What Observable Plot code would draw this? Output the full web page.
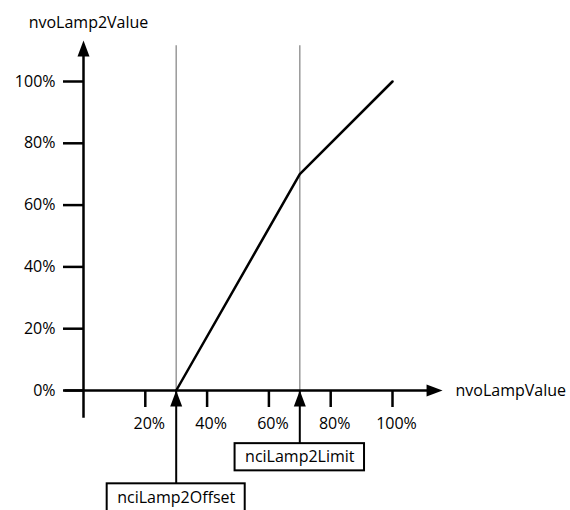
<!DOCTYPE html>
<html>
<head>
<meta charset="utf-8">
<script src="https://cdn.jsdelivr.net/npm/d3@7"></script>
<script src="https://cdn.jsdelivr.net/npm/@observablehq/plot@0.6"></script>
<style>
  html, body { margin: 0; padding: 0; background: white; overflow: hidden; }
</style>
</head>
<body>
<div id="chart"></div>
<script>
// ---- data ----
const inputPct = [30, 70, 100];       // nvoLampValue (%)
const outputPct = [0, 70, 100];       // nvoLamp2Value (%)
const xTicks = [20, 40, 60, 80, 100];
const yTicks = [0, 20, 40, 60, 80, 100];
const guideValues = [30, 70];
const markerNames = ["nciLamp2Offset", "nciLamp2Limit"];
const markerValues = [30, 70];
const xTitle = "nvoLampValue";
const yTitle = "nvoLamp2Value";

// ---- layout ----
const W = 570, H = 510;
const mL = 83, mR = 178, mT = 81, mB = 120;
const pxPerUnit = (W - mL - mR) / 100;
const FONT = "'Open Sans', sans-serif";
const FS = 16;
const xAxisFrom = -6, xAxisTo = 116.2;
const yAxisFrom = -9, yAxisTo = 113.3;
const guideTop = 111.6;
const boxLevels = [[-30.2, -39.5], [-17.2, -26.0]];

const ctx = document.createElement("canvas").getContext("2d");
ctx.font = `${FS}px ${FONT}`;

const line = inputPct.map((x, i) => ({x, y: outputPct[i]}));
const markers = markerNames.map((name, i) => {
  const hw = (ctx.measureText(name).width / 2 + 10) / pxPerUnit;
  const [top, bottom] = boxLevels[i];
  return {name, x: markerValues[i], x1: markerValues[i] - hw, x2: markerValues[i] + hw,
          top, bottom, mid: (top + bottom) / 2};
});

const arrowHead = {
  draw(c) { c.moveTo(0, 0); c.lineTo(-6, 16); c.lineTo(6, 16); c.closePath(); }
};
const pct = d => d + "%";

const chart = Plot.plot({
  width: W, height: H,
  marginLeft: mL, marginRight: mR, marginTop: mT, marginBottom: mB,
  x: {domain: [0, 100]},
  y: {domain: [0, 100]},
  style: {fontFamily: FONT, fontSize: FS + "px", color: "black", background: "white"},
  marks: [
    Plot.ruleX(guideValues, {y1: 0, y2: guideTop, stroke: "#999", strokeWidth: 1.5}),
    Plot.line(line, {x: "x", y: "y", stroke: "black", strokeWidth: 2.5, strokeLinejoin: "miter"}),
    // axis lines
    Plot.ruleY([0], {x1: xAxisFrom, x2: xAxisTo - 4, stroke: "black", strokeWidth: 2.5}),
    Plot.ruleX([0], {y1: yAxisFrom, y2: yAxisTo - 4, stroke: "black", strokeWidth: 2.5}),
    Plot.dot([{x: xAxisTo, y: 0}], {x: "x", y: "y", symbol: arrowHead, rotate: 90, fill: "black", stroke: "none"}),
    Plot.dot([{x: 0, y: yAxisTo}], {x: "x", y: "y", symbol: arrowHead, fill: "black", stroke: "none"}),
    // ticks + labels
    Plot.axisY({ticks: yTicks, tickSize: 20, tickPadding: 8, tickFormat: pct, strokeWidth: 2.5, fontSize: FS}),
    Plot.axisX({ticks: xTicks, tickSize: 17, tickFormat: () => "", strokeWidth: 2.5}),
    Plot.axisX({ticks: xTicks, tickSize: 0, tickPadding: 27, dx: 4, tickFormat: pct, fontSize: FS}),
    // axis titles
    Plot.text([xTitle], {x: xAxisTo, y: 0, text: d => d, textAnchor: "start", dx: 13, fontSize: FS}),
    Plot.text([yTitle], {x: 0, y: yAxisTo, text: d => d, dx: 5, dy: -18, fontSize: FS}),
    // markers
    Plot.ruleX(markers, {x: "x", y1: "top", y2: 0, stroke: "black", strokeWidth: 2}),
    Plot.dot(markers, {x: "x", y: () => 0, symbol: arrowHead, fill: "black", stroke: "none"}),
    Plot.rect(markers, {x1: "x1", x2: "x2", y1: "top", y2: "bottom", fill: "white", stroke: "black", strokeWidth: 2}),
    Plot.text(markers, {x: "x", y: "mid", text: "name", fontSize: FS})
  ]
});
document.getElementById("chart").appendChild(chart);
</script>
</body>
</html>
